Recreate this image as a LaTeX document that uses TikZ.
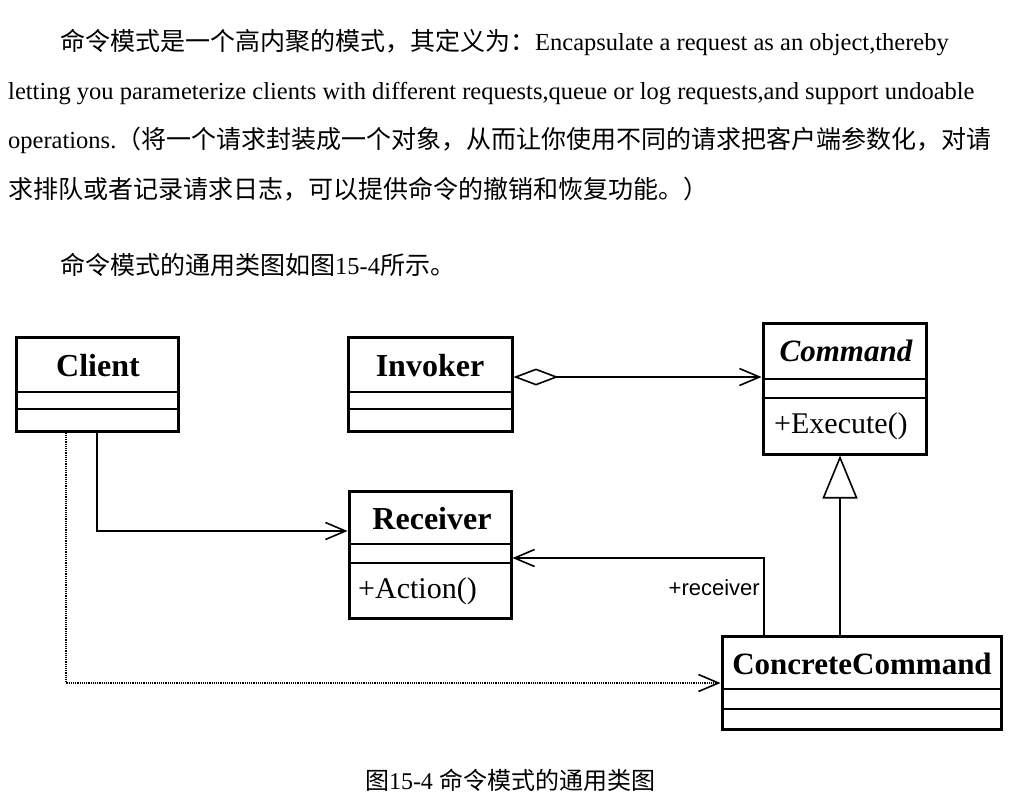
\documentclass[tikz,border=0pt]{standalone}
\usepackage{fontspec}
\setmainfont{Liberation Serif}
\newfontfamily\cjk{Noto Sans CJK SC}
\newfontfamily\lsans{Liberation Sans}
\usetikzlibrary{arrows.meta}
\newcommand\zh[1]{{\cjk\fontsize{25}{25}\selectfont #1}}
\begin{document}
\begin{tikzpicture}[x=1pt,y=-1pt,
  txt/.style={inner sep=0pt, anchor=base west, font=\fontsize{24.5}{24.5}\selectfont},
  cls/.style={draw, line width=3pt, inner sep=0pt},
  cname/.style={inner sep=0pt, font=\fontsize{32}{32}\selectfont\bfseries},
  attr/.style={inner sep=0pt, anchor=west, font=\fontsize{30}{30}\selectfont},
  sep/.style={line width=2.8pt},
  conn/.style={line width=1.6pt},
  assoc/.style={conn, -{Straight Barb[length=20pt,width=17pt]}},
  agg/.style={assoc, {Diamond[open,length=45pt,width=17pt]}-{Straight Barb[length=20pt,width=17pt]}},
  gen/.style={conn, -{Triangle[open,length=43pt,width=35pt]}},
  dep/.style={line width=2pt, dash pattern=on 1.2pt off 1pt, -{Straight Barb[length=20pt,width=17pt,line width=1.6pt]}},
  lbl/.style={inner sep=0pt, font=\lsans\fontsize{22}{22}\selectfont}
]
\useasboundingbox (0,0) rectangle (1012,804);
\fill[white] (0,0) rectangle (1012,804);

% text lines
\node[txt] (l1) at (60,50) {\zh{命令模式是一个高内聚的模式，其定义为：}Encapsulate a request as an object,thereby};
\node[txt] (l2) at (8,99) {letting you parameterize clients with different requests,queue or log requests,and support undoable};
\node[txt] (l3) at (8,148) {operations.\zh{（将一个请求封装成一个对象，从而让你使用不同的请求把客户端参数化，对请}};
\node[txt] (l4) at (8,198) {\zh{求排队或者记录请求日志，可以提供命令的撤销和恢复功能。）}};
\node[txt] (l5) at (60,274) {\zh{命令模式的通用类图如图}15-4\zh{所示。}};
\node[inner sep=0pt, anchor=base, font=\fontsize{24}{24}\selectfont] (cap) at (510,789)
  {{\cjk\fontsize{24}{24}\selectfont 图}15-4 {\cjk\fontsize{24}{24}\selectfont 命令模式的通用类图}};

% classes
\node[cls, minimum width=162pt, minimum height=94pt] (client) at (97,384) {};
\node[cname] (clientn) at (98,366) {Client};
\draw[sep] (client.west |- 0,392) -- (client.east |- 0,392);
\draw[sep] (client.west |- 0,409) -- (client.east |- 0,409);

\node[cls, minimum width=164pt, minimum height=94pt] (invoker) at (430,384) {};
\node[cname] (invokern) at (430,366) {Invoker};
\draw[sep] (invoker.west |- 0,392) -- (invoker.east |- 0,392);
\draw[sep] (invoker.west |- 0,409) -- (invoker.east |- 0,409);

\node[cls, minimum width=163pt, minimum height=131pt] (command) at (844.5,388.5) {};
\node[cname, font=\fontsize{31}{31}\selectfont\bfseries\itshape] (commandn) at (846,351) {Command};
\draw[sep] (command.west |- 0,379) -- (command.east |- 0,379);
\draw[sep] (command.west |- 0,398) -- (command.east |- 0,398);
\node[attr] (exec) at (774,426) {+Execute()};

\node[cls, minimum width=162pt, minimum height=127pt] (receiver) at (430,554.5) {};
\node[cname] (receivern) at (432,519) {Receiver};
\draw[sep] (receiver.west |- 0,544) -- (receiver.east |- 0,544);
\draw[sep] (receiver.west |- 0,563) -- (receiver.east |- 0,563);
\node[attr] (action) at (358,591) {+Action()};

\node[cls, minimum width=279pt, minimum height=93pt] (cc) at (861.5,682.5) {};
\node[cname, font=\fontsize{31}{31}\selectfont\bfseries] (ccn) at (862,664) {ConcreteCommand};
\draw[sep] (cc.west |- 0,689) -- (cc.east |- 0,689);
\draw[sep] (cc.west |- 0,709) -- (cc.east |- 0,709);

% connectors
\draw[agg] (invoker.east |- 0,377) -- (command.west |- 0,377);
\draw[assoc] (client.south) |- (receiver.west |- 0,531);
\draw[assoc] (cc.north -| 764,0) |- (receiver.east |- 0,558);
\node[lbl, anchor=east] (rlbl) at (760,588) {+receiver};
\draw[gen] (cc.north -| 840,0) -- (command.south -| 840,0);
\draw[dep] (client.south -| 66,0) |- (cc.west |- 0,683);
\end{tikzpicture}
\end{document}
